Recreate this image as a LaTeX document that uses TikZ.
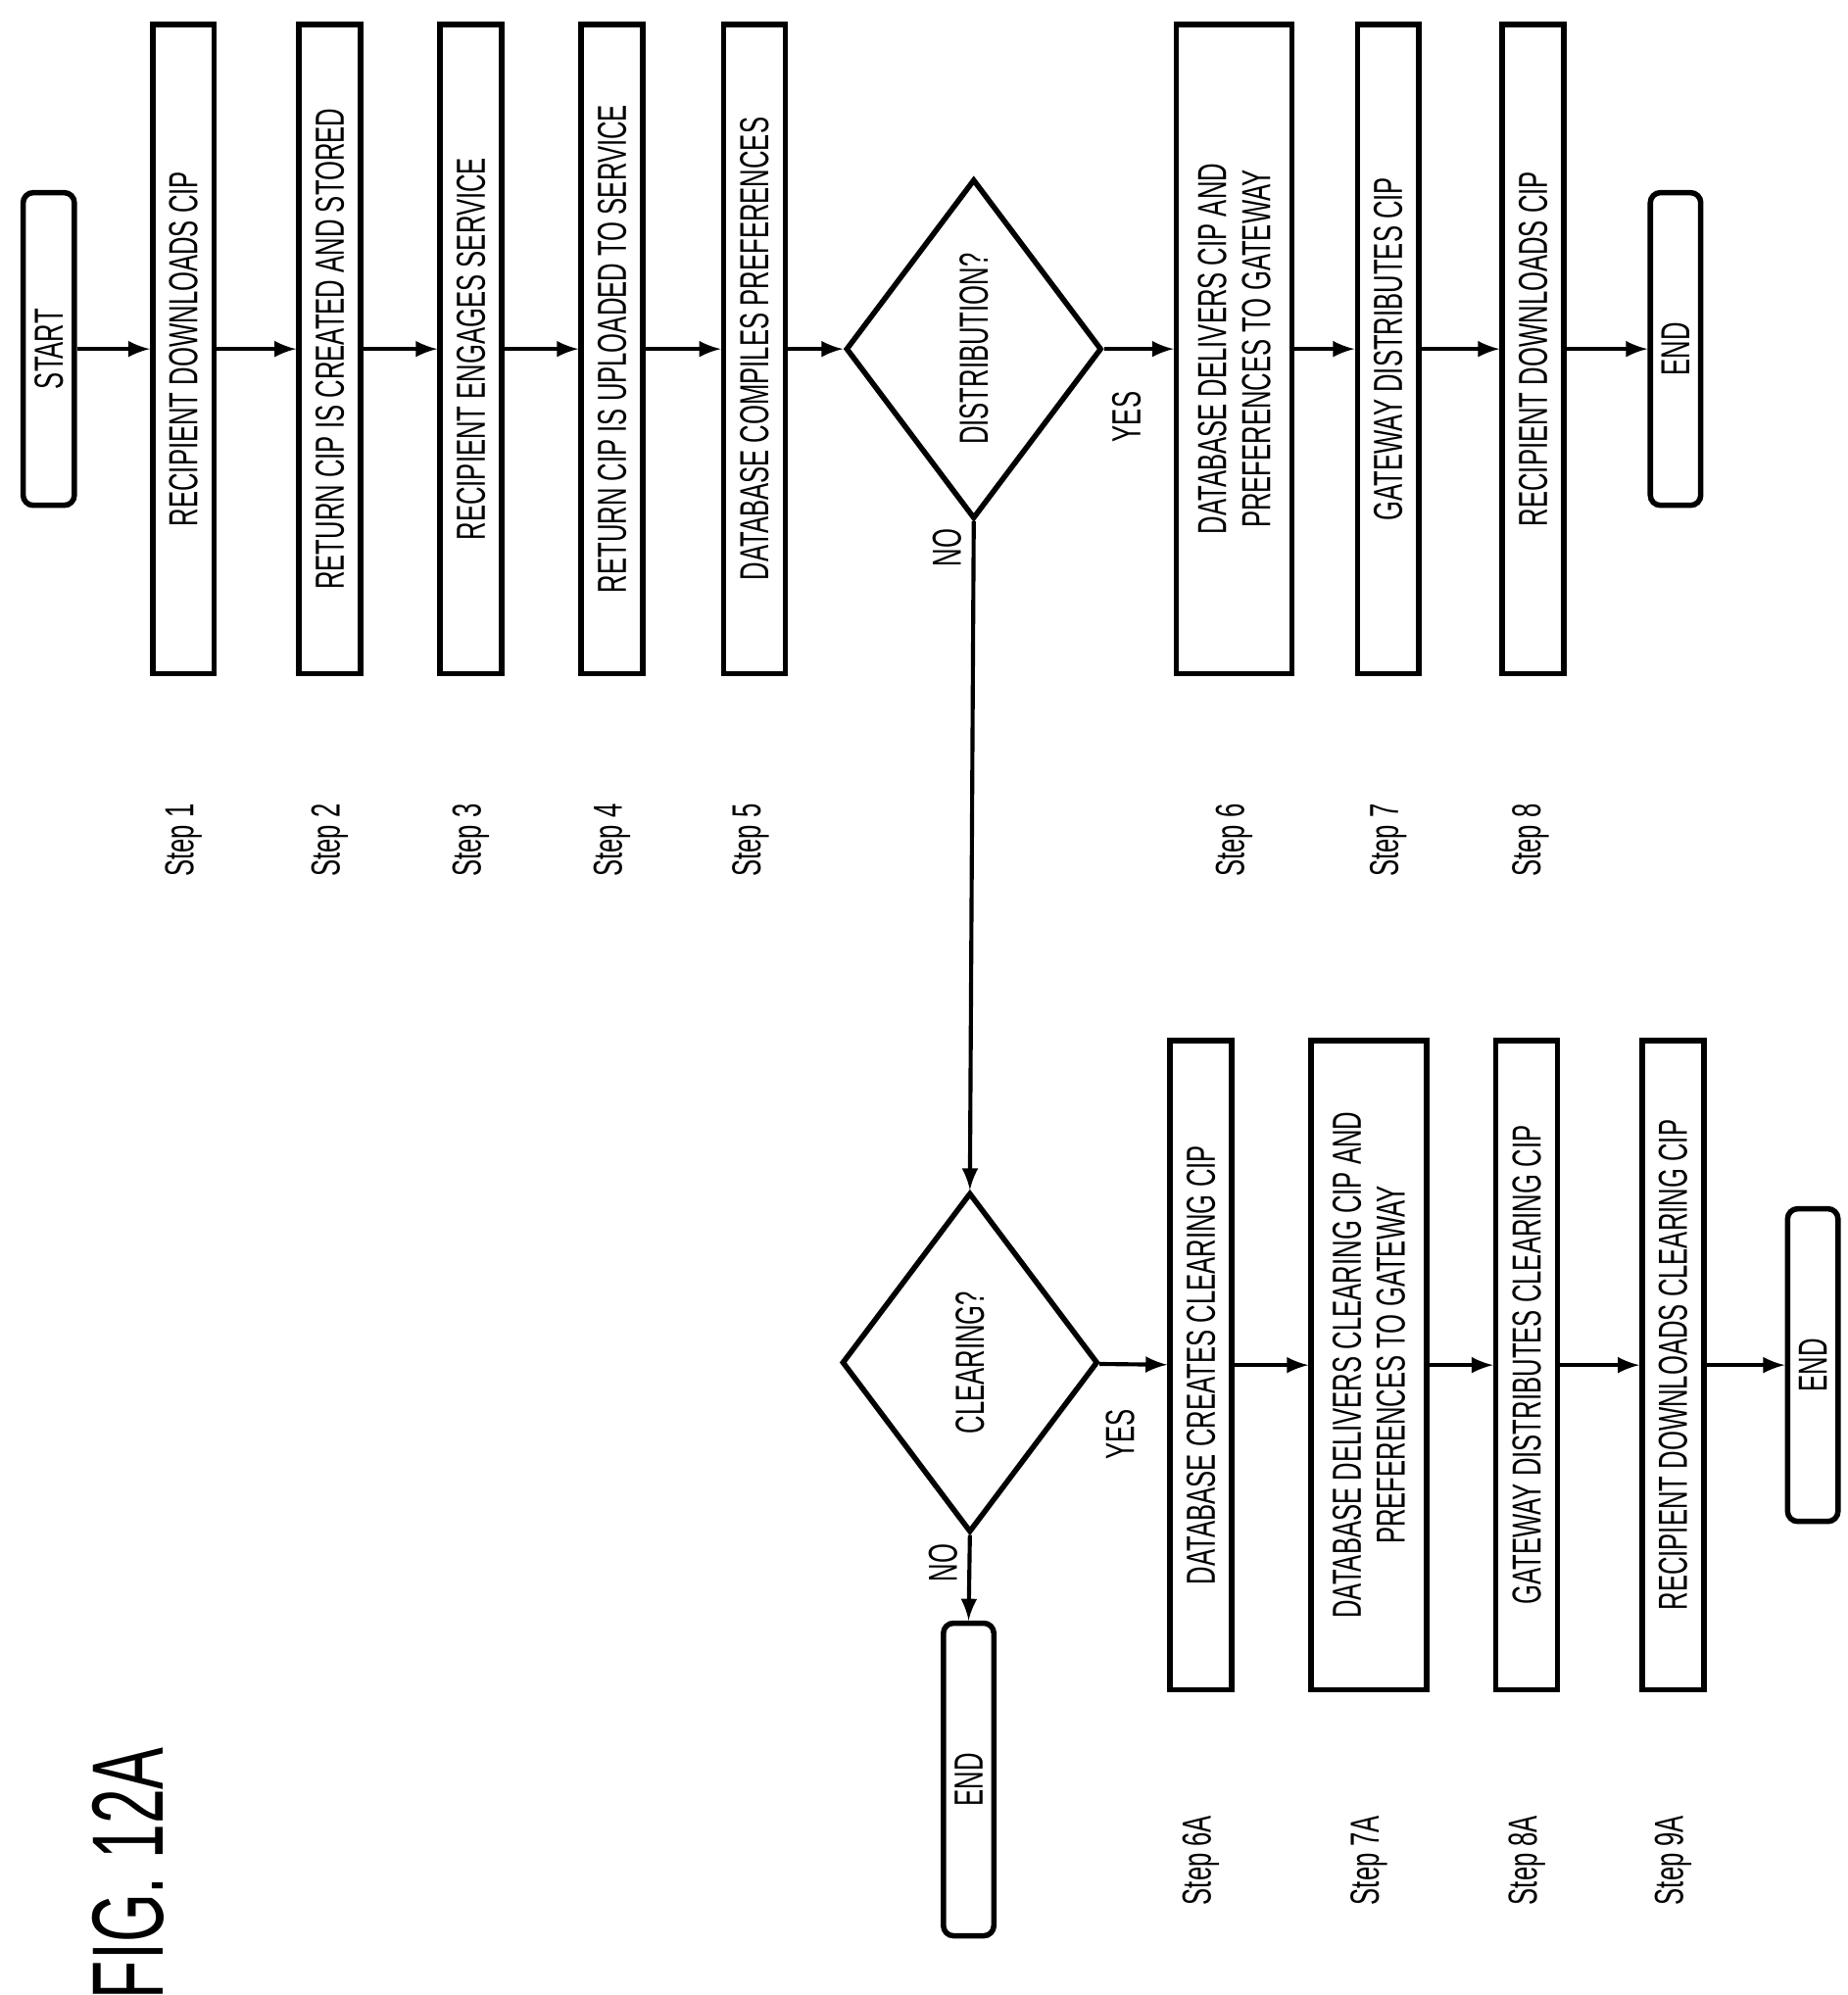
\documentclass[tikz,border=0pt]{standalone}
\usepackage{fontspec}
\usetikzlibrary{shapes.geometric}
\setmainfont[FakeStretch=0.62]{Liberation Sans}
\begin{document}
\begin{tikzpicture}[x=0.01333cm,y=-0.01333cm,
  box/.style={draw,line width=1.6pt,rotate=90,minimum width=6.75cm,minimum height=0.64cm,align=center,font=\fontsize{12}{13}\selectfont,inner sep=1pt},
  wbox/.style={box,minimum height=1.2cm},
  term/.style={draw,line width=1.6pt,rounded corners=3pt,rotate=90,minimum width=3.25cm,minimum height=0.52cm,font=\fontsize{12}{13}\selectfont},
  dec/.style={draw,line width=1.6pt,diamond,rotate=90,minimum width=3.53cm,minimum height=2.66cm,inner sep=0pt,font=\fontsize{12}{13}\selectfont},
  lbl/.style={rotate=90,font=\fontsize{12}{13}\selectfont},
  arr/.style={->,>=latex,line width=1.2pt}]
  \useasboundingbox (0,0) rectangle (1440,1555);

  % top row
  \node[term] (start) at (38,272) {START};
  \node[box] (s1) at (143,272) {RECIPIENT DOWNLOADS CIP};
  \node[box] (s2) at (257,272) {RETURN CIP IS CREATED AND STORED};
  \node[box] (s3) at (367,272) {RECIPIENT ENGAGES SERVICE};
  \node[box] (s4) at (477,272) {RETURN CIP IS UPLOADED TO SERVICE};
  \node[box] (s5) at (588,272) {DATABASE COMPILES PREFERENCES};
  \node[dec] (dist) at (759,272) {DISTRIBUTION?};
  \node[wbox] (s6) at (962,272) {DATABASE DELIVERS CIP AND\\PREFERENCES TO GATEWAY};
  \node[box] (s7) at (1082,272) {GATEWAY DISTRIBUTES CIP};
  \node[box] (s8) at (1195,272) {RECIPIENT DOWNLOADS CIP};
  \node[term] (end1) at (1306,272) {END};

  % bottom row
  \node[dec] (clr) at (756,1062) {CLEARING?};
  \node[term] (end2) at (755,1387) {END};
  \node[box] (s6a) at (936,1064) {DATABASE CREATES CLEARING CIP};
  \node[wbox] (s7a) at (1067,1064) {DATABASE DELIVERS CLEARING CIP AND\\PREFERENCES TO GATEWAY};
  \node[box] (s8a) at (1190,1064) {GATEWAY DISTRIBUTES CLEARING CIP};
  \node[box] (s9a) at (1304,1064) {RECIPIENT DOWNLOADS CLEARING CIP};
  \node[term] (end3) at (1413,1064) {END};

  % connectors
  \foreach \a/\b in {start/s1,s1/s2,s2/s3,s3/s4,s4/s5,s5/dist,dist/s6,s6/s7,s7/s8,s8/end1,
                     clr/s6a,s6a/s7a,s7a/s8a,s8a/s9a,s9a/end3}
    \draw[arr] (\a) -- (\b);
  \draw[arr] (dist.west) -- (clr.east);
  \draw[arr] (clr.west) -- (end2.east);

  \node[lbl] (y1) at (878,325) {YES};
  \node[lbl] (n1) at (738,427) {NO};
  \node[lbl] (y2) at (873,1118) {YES};
  \node[lbl] (n2) at (735,1218) {NO};

  % step labels
  \foreach \x/\t in {143/1,257/2,367/3,477/4,585/5,962/6,1082/7,1193/8}
    \node[lbl] at (\x,655) {Step \t};
  \foreach \x/\t in {936/6A,1067/7A,1190/8A,1304/9A}
    \node[lbl] at (\x,1450) {Step \t};

  \node[rotate=90,font=\fontsize{30}{32}\selectfont] (fig) at (100,1460) {FIG. 12A};
\end{tikzpicture}
\end{document}
